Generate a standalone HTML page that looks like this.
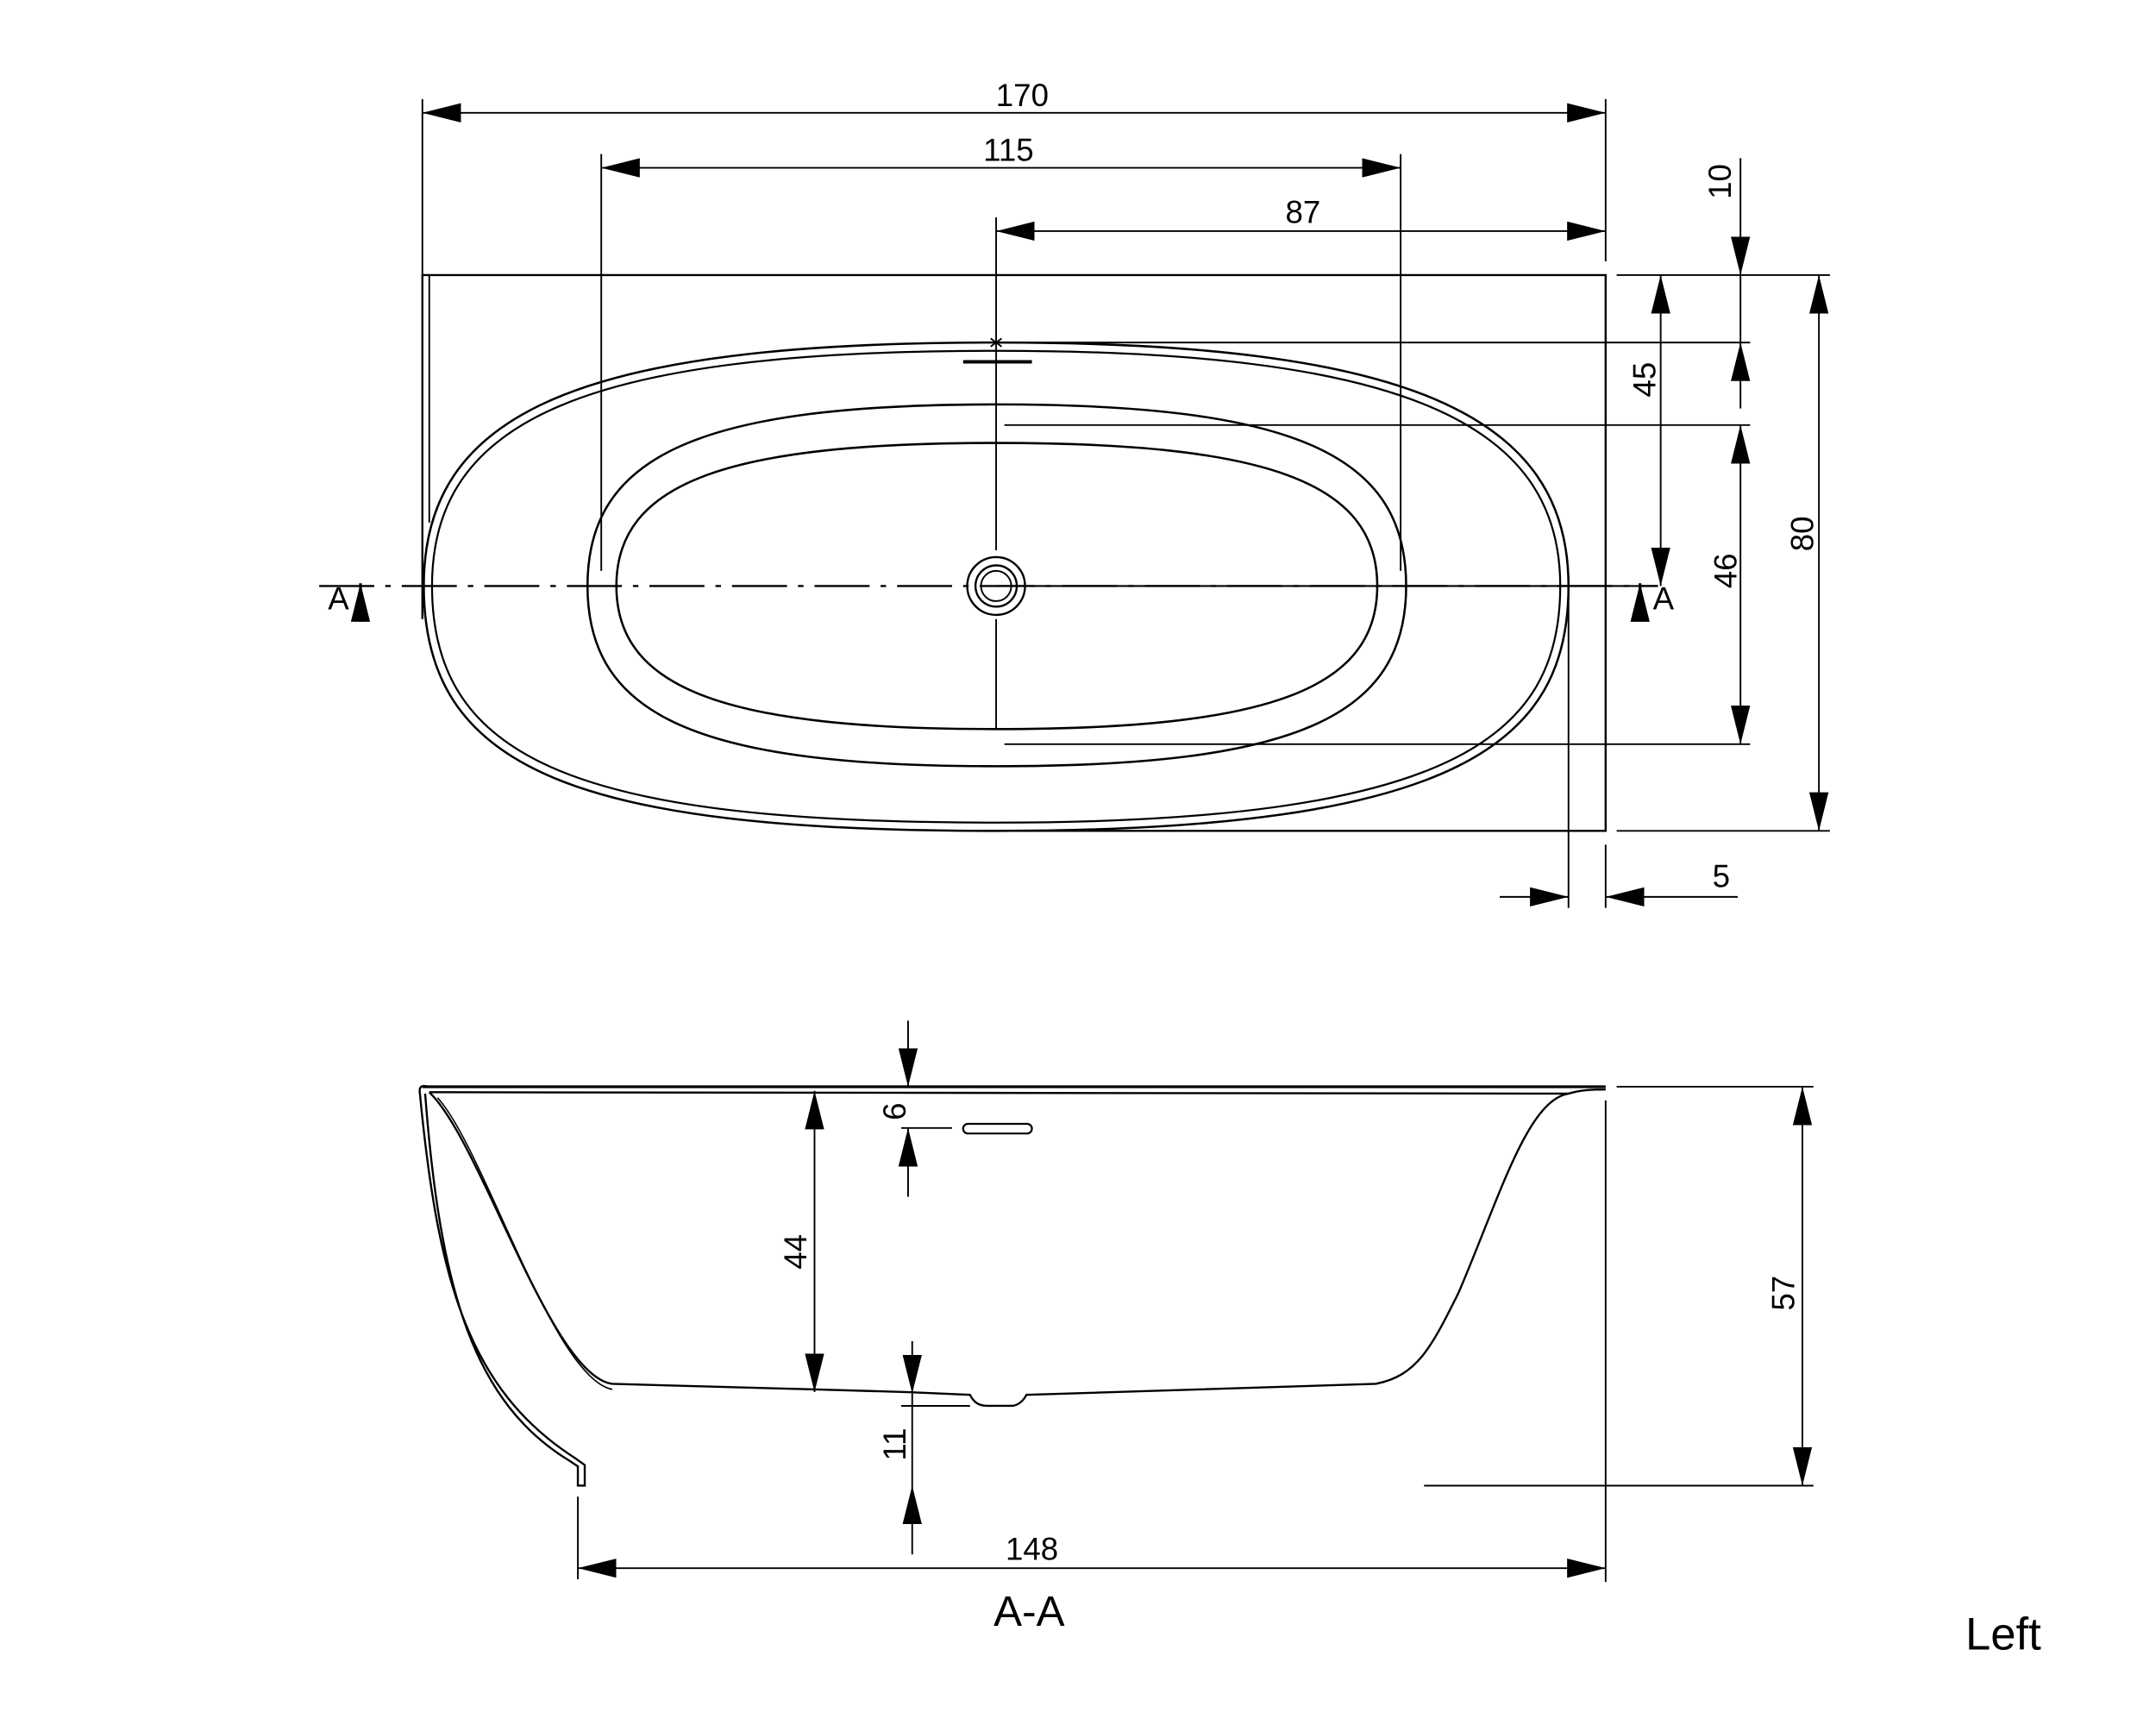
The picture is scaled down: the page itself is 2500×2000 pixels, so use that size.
<!DOCTYPE html>
<html><head><meta charset="utf-8"><style>html,body{margin:0;padding:0;background:#fff}svg{display:block}</style></head>
<body>
<svg width="2500" height="2000" viewBox="0 0 1567 1254" preserveAspectRatio="none" xmlns="http://www.w3.org/2000/svg" font-family="Liberation Sans, sans-serif" font-size="23" fill="none" stroke="#000" stroke-width="1.2">
<defs>
<marker id="a" markerUnits="userSpaceOnUse" viewBox="0 0 28 14" refX="28" refY="7" markerWidth="28" markerHeight="14" orient="auto-start-reverse"><path d="M0,0 L28,7 L0,14 z" fill="#000" stroke="none"/></marker>
</defs>
<rect x="0" y="0" width="1567" height="1254" fill="#fff" stroke="none"/>

<line x1="307" y1="82" x2="1167" y2="82" marker-start="url(#a)" marker-end="url(#a)"/>
<line x1="307" y1="72" x2="307" y2="200"/>
<line x1="1167" y1="72" x2="1167" y2="190"/>
<line x1="437" y1="122" x2="1018" y2="122" marker-start="url(#a)" marker-end="url(#a)"/>
<line x1="437" y1="112" x2="437" y2="415"/>
<line x1="1018" y1="112" x2="1018" y2="415"/>
<line x1="724" y1="168" x2="1167" y2="168" marker-start="url(#a)" marker-end="url(#a)"/>
<line x1="724" y1="158" x2="724" y2="400"/>
<line x1="724" y1="450" x2="724" y2="530"/>

<g fill="#000" stroke="none" text-anchor="middle">
<text x="743" y="77">170</text>
<text x="733" y="117">115</text>
<text x="947" y="162">87</text>
<text transform="translate(1258,132) rotate(-90)">10</text>
<text transform="translate(1203,276) rotate(-90)">45</text>
<text transform="translate(1262,415) rotate(-90)">46</text>
<text transform="translate(1318,388) rotate(-90)">80</text>
<text x="1251" y="645">5</text>
<text x="246" y="443">A</text>
<text x="1209" y="443">A</text>
<text transform="translate(658,808) rotate(-90)">6</text>
<text transform="translate(586,910) rotate(-90)">44</text>
<text transform="translate(658,1050) rotate(-90)">11</text>
<text transform="translate(1304,940) rotate(-90)">57</text>
<text x="750" y="1134">148</text>
<text x="748" y="1182" font-size="31">A-A</text>
<text x="1456" y="1199" font-size="33">Left</text>
</g>

<path d="M307,450 L307,200 L1167,200 L1167,604 L724,604" stroke-width="1.5"/>
<line x1="312" y1="200" x2="312" y2="380"/>
<line x1="1140" y1="420" x2="1140" y2="660"/>
<line x1="1167" y1="614" x2="1167" y2="660"/>

<path d="M308,426 C308,300 420,249 724,249 C1020,249 1140,300 1140,426 C1140,540 1060,604 724,604 C420,604 308,560 308,426 Z" stroke-width="1.6"/>
<path d="M314,426 C314,305 425,255 724,255 C1015,255 1134,305 1134,426 C1134,536 1055,598 724,598 C425,598 314,555 314,426 Z" stroke-width="1.4"/>
<path d="M427,426 C427,330 510,294 724,294 C940,294 1022,330 1022,426 C1022,522 940,557 724,557 C510,557 427,522 427,426 Z" stroke-width="1.6"/>
<path d="M448,426 C448,350 530,322 724,322 C920,322 1001,350 1001,426 C1001,502 920,530 724,530 C530,530 448,502 448,426 Z" stroke-width="1.6"/>
<circle cx="724" cy="426" r="21" stroke-width="1.5"/>
<circle cx="724" cy="426" r="15" stroke-width="1.5"/>
<circle cx="724" cy="426" r="11"/>
<line x1="700" y1="263" x2="750" y2="263" stroke-width="2.5"/>
<path d="M720,246 L728,252 M728,246 L720,252"/>

<line x1="232" y1="426" x2="1205" y2="426" stroke-width="1.5" stroke-dasharray="40,8,4,8"/>
<line x1="724" y1="426" x2="1205" y2="426" stroke-width="1.3"/>
<line x1="262" y1="452" x2="262" y2="424" marker-end="url(#a)" stroke-width="2"/>
<line x1="1192" y1="452" x2="1192" y2="424" marker-end="url(#a)" stroke-width="2"/>

<line x1="1265" y1="115" x2="1265" y2="200" marker-end="url(#a)"/>
<line x1="1265" y1="297" x2="1265" y2="249" marker-end="url(#a)"/>
<line x1="1265" y1="200" x2="1265" y2="249"/>
<line x1="724" y1="249" x2="1272" y2="249"/>
<line x1="730" y1="309" x2="1272" y2="309"/>
<line x1="730" y1="541" x2="1272" y2="541"/>
<line x1="1175" y1="200" x2="1330" y2="200"/>
<line x1="1175" y1="604" x2="1330" y2="604"/>
<line x1="1207" y1="200" x2="1207" y2="426" marker-start="url(#a)" marker-end="url(#a)"/>
<line x1="1265" y1="309" x2="1265" y2="541" marker-start="url(#a)" marker-end="url(#a)"/>
<line x1="1322" y1="200" x2="1322" y2="604" marker-start="url(#a)" marker-end="url(#a)"/>
<line x1="1090" y1="652" x2="1140" y2="652" marker-end="url(#a)"/>
<line x1="1263" y1="652" x2="1167" y2="652" marker-end="url(#a)"/>

<line x1="307" y1="790" x2="1167" y2="790" stroke-width="2"/>
<path d="M312,794 C700,797 1000,796 1140,795 C1150,792 1158,792 1167,792" stroke-width="1.5"/>
<path d="M305,793 C305,789 308,789 311,790 M305,793 C318,930 340,1010 418,1060 L425,1065 L425,1080 L420,1080 L420,1066 L414,1062 C345,1020 320,940 309,795" stroke-width="1.5"/>
<path d="M312,794 C350,830 400,1000 445,1006 L590,1010 L660,1012 L705,1014 C708,1020 712,1022 718,1022 L735,1022 C740,1022 744,1018 746,1014 L1000,1006 C1030,1000 1040,980 1060,940 C1090,870 1110,800 1140,795" stroke-width="1.5"/>
<path d="M318,798 C352,835 402,1002 445,1010" stroke-width="1"/>

<line x1="660" y1="742" x2="660" y2="790" marker-end="url(#a)"/>
<line x1="660" y1="870" x2="660" y2="820" marker-end="url(#a)"/>
<line x1="655" y1="820" x2="692" y2="820"/>
<rect x="700" y="817" width="50" height="7" rx="3.5" stroke-width="1.4"/>
<line x1="592" y1="793" x2="592" y2="1012" marker-start="url(#a)" marker-end="url(#a)"/>
<line x1="663" y1="975" x2="663" y2="1013" marker-end="url(#a)"/>
<line x1="663" y1="1130" x2="663" y2="1080" marker-end="url(#a)"/>
<line x1="663" y1="1013" x2="663" y2="1080"/>
<line x1="655" y1="1022" x2="705" y2="1022"/>
<line x1="1175" y1="790" x2="1318" y2="790"/>
<line x1="1035" y1="1080" x2="1318" y2="1080"/>
<line x1="1310" y1="790" x2="1310" y2="1080" marker-start="url(#a)" marker-end="url(#a)"/>
<line x1="1167" y1="800" x2="1167" y2="1150"/>
<line x1="420" y1="1088" x2="420" y2="1148"/>
<line x1="420" y1="1140" x2="1167" y2="1140" marker-start="url(#a)" marker-end="url(#a)"/>
</svg>
</body></html>
